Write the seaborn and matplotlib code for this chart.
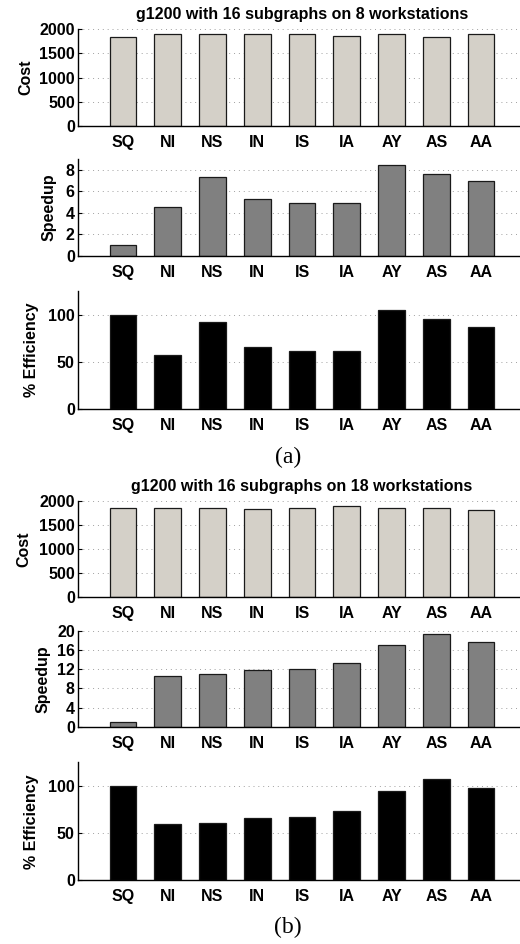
import numpy as np
import pandas as pd
import matplotlib
matplotlib.use('Agg')
import matplotlib.pyplot as plt
import seaborn as sns

# bar labels (MATLAB style strategy codes)
categories = ['SQ', 'NI', 'NS', 'IN', 'IS', 'IA', 'AY', 'AS', 'AA']

# (a) 8 workstations
cost_8 = [1841, 1897, 1903, 1890, 1897, 1855, 1897, 1841, 1897]
speedup_8 = [1.0, 4.55, 7.35, 5.3, 4.9, 4.95, 8.4, 7.63, 6.98]
eff_8 = [100, 57, 92, 66.2, 61, 61.6, 105, 95.4, 87.3]

# (b) 18 workstations
cost_18 = [1848, 1855, 1855, 1834, 1848, 1896, 1855, 1848, 1813]
speedup_18 = [1.0, 10.64, 11.0, 11.8, 12.1, 13.2, 16.97, 19.27, 17.6]
eff_18 = [100, 59.3, 60.7, 65.6, 67.4, 73, 94.4, 107, 97.9]

titles = ['g1200 with 16 subgraphs on 8 workstations',
          'g1200 with 16 subgraphs on 18 workstations']
panel_tags = ['(a)', '(b)']

sns.set_theme(style='white')
plt.rcParams['font.family'] = ['Liberation Sans', 'DejaVu Sans']
plt.rcParams['font.weight'] = 'bold'
plt.rcParams['text.color'] = 'black'
plt.rcParams['axes.labelcolor'] = 'black'

W, H = 520, 944
fig = plt.figure(figsize=(W / 100, H / 100), dpi=100)
FS = 11.5

left_px, right_px = 78.3, 525.8
# top/bottom pixel rows of the six axes
rows = [(29, 126), (159, 256), (291, 409),
        (501, 597.3), (630.7, 727), (762.3, 880.3)]

panels = [
    (cost_8, '#d4d0c8', 'Cost', (0, 2000), [0, 500, 1000, 1500, 2000], -0.101),
    (speedup_8, '#808080', 'Speedup', (0, 9), [0, 2, 4, 6, 8], -0.048),
    (eff_8, '#000000', '% Efficiency', (0, 125), [0, 50, 100], -0.088),
    (cost_18, '#d4d0c8', 'Cost', (0, 2000), [0, 500, 1000, 1500, 2000], -0.105),
    (speedup_18, '#808080', 'Speedup', (0, 20), [0, 4, 8, 12, 16, 20], -0.063),
    (eff_18, '#000000', '% Efficiency', (0, 125), [0, 50, 100], -0.088),
]

for i, (vals, col, ylab, ylim, yticks, labx) in enumerate(panels):
    top, bot = rows[i]
    ax = fig.add_axes([left_px / W, 1 - bot / H,
                       (right_px - left_px) / W, (bot - top) / H])
    df = pd.DataFrame({'cat': categories, 'val': vals})
    sns.barplot(data=df, x='cat', y='val', color=col, saturation=1,
                width=0.6, edgecolor='#1a1a1a', linewidth=0.9, ax=ax)
    ax.set_xlim(-1, 9)
    ax.set_ylim(*ylim)
    ax.set_yticks(yticks)
    ax.set_yticklabels([str(t) for t in yticks], fontsize=FS, fontweight='bold')
    ax.set_xticks(range(len(categories)))
    ax.set_xticklabels(categories, fontsize=FS, fontweight='bold')
    ax.set_xlabel('')
    ax.set_ylabel(ylab, fontsize=FS, fontweight='bold')
    ax.yaxis.set_label_coords(labx, 0.5)
    ax.tick_params(axis='y', direction='in', length=3, width=0.8, pad=2.5,
                   left=True, colors='black')
    ax.tick_params(axis='x', length=0, pad=6.5, colors='black')
    ax.yaxis.grid(True, linestyle=(0, (1, 4)), linewidth=0.7, color='#a0a0a0')
    ax.xaxis.grid(False)
    ax.set_axisbelow(True)
    for s in ['top', 'right']:
        ax.spines[s].set_visible(False)
    for s in ['left', 'bottom']:
        ax.spines[s].set_color('black')
        ax.spines[s].set_linewidth(1.0)
    if i % 3 == 0:
        ax.set_title(titles[i // 3], fontsize=FS, fontweight='bold', pad=7.5)

fig.text(288 / W, 1 - 457 / H, panel_tags[0], ha='center', va='center',
         fontsize=17, fontweight='normal', family='Liberation Serif')
fig.text(288 / W, 1 - 927 / H, panel_tags[1], ha='center', va='center',
         fontsize=17, fontweight='normal', family='Liberation Serif')

fig.savefig('out.png', dpi=100)
